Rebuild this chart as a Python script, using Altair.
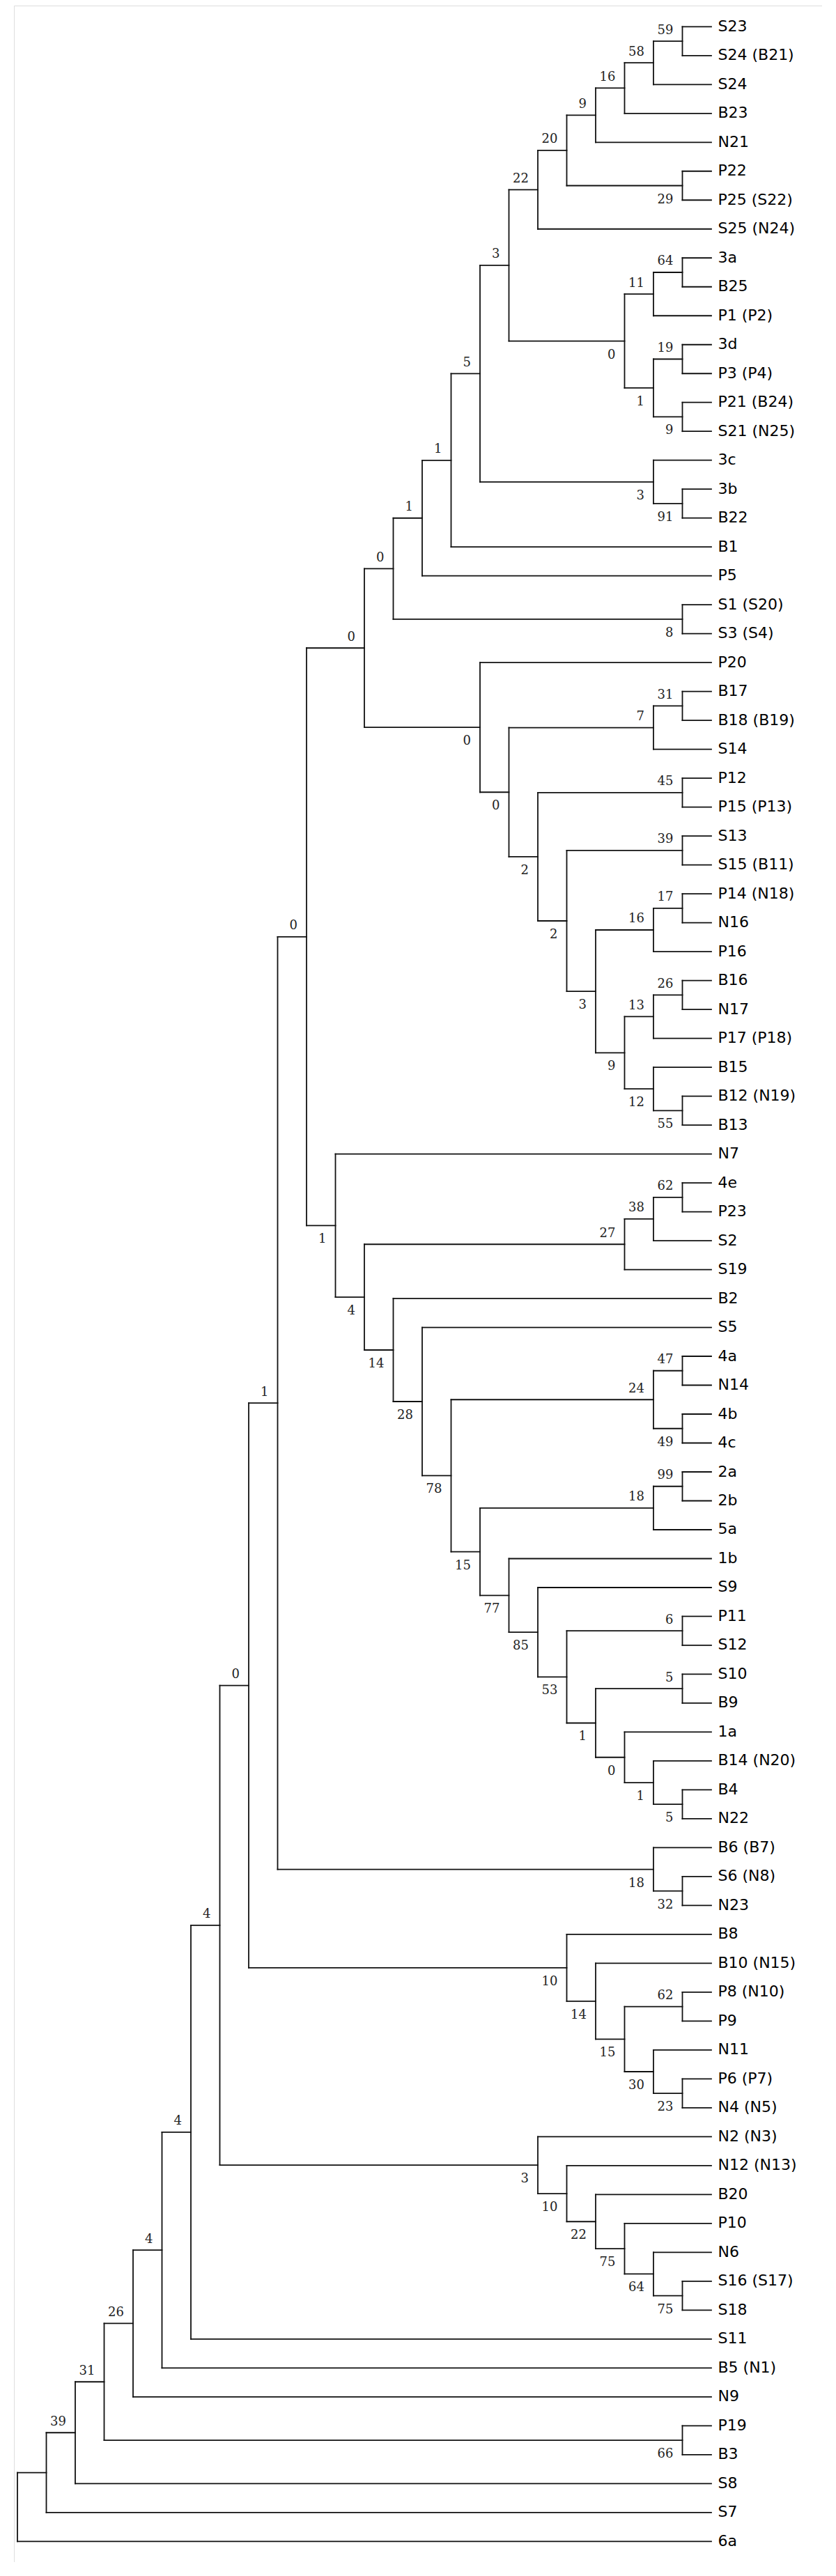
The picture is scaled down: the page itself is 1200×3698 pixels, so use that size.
import altair as alt
import pandas as pd

# ---------------- data ----------------
leaf_names = [
    "S23", "S24 (B21)", "S24", "B23", "N21", "P22", "P25 (S22)", "S25 (N24)",
    "3a", "B25", "P1 (P2)", "3d", "P3 (P4)", "P21 (B24)", "S21 (N25)",
    "3c", "3b", "B22", "B1", "P5", "S1 (S20)", "S3 (S4)",
    "P20", "B17", "B18 (B19)", "S14", "P12", "P15 (P13)", "S13", "S15 (B11)",
    "P14 (N18)", "N16", "P16", "B16", "N17", "P17 (P18)", "B15", "B12 (N19)", "B13",
    "N7", "4e", "P23", "S2", "S19", "B2", "S5", "4a", "N14", "4b", "4c",
    "2a", "2b", "5a", "1b", "S9", "P11", "S12", "S10", "B9", "1a",
    "B14 (N20)", "B4", "N22", "B6 (B7)", "S6 (N8)", "N23",
    "B8", "B10 (N15)", "P8 (N10)", "P9", "N11", "P6 (P7)", "N4 (N5)",
    "N2 (N3)", "N12 (N13)", "B20", "P10", "N6", "S16 (S17)", "S18",
    "S11", "B5 (N1)", "N9", "P19", "B3", "S8", "S7", "6a",
]

# internal nodes: id, upper child, lower child, bootstrap support
node_ids = [
    "a59", "a58", "a16", "a9", "a29", "a20", "a22", "a64", "a11", "a19", "a9b", "a1",
    "a0", "a3", "a91", "a3b", "a5", "b1", "b1b", "c8", "c0",
    "d31", "d7", "d45", "d39", "d17", "d16", "d26", "d13", "d55", "d12", "d9", "d3",
    "d2a", "d2b", "d0a", "d0b", "e0",
    "f62", "f38", "f27", "f47", "f49", "f24", "f99", "f18", "f6", "f5", "f5b", "f1a",
    "f0", "f1b", "f53", "f85", "f77", "f15", "f78", "f28", "f14", "f4", "f1", "g0",
    "g32", "g18", "h15", "i23", "i30", "i62", "i15", "i14", "i10", "h16",
    "j75b", "j64", "j75", "j22", "j10", "j3", "h17", "h18", "h19", "h20", "k66",
    "h21", "h22", "h23", "root",
]
node_upper = [
    "S23", "a59", "a58", "a16", "P22", "a9", "a20", "3a", "a64", "3d", "P21 (B24)", "a19",
    "a11", "a22", "3b", "3c", "a3", "a5", "b1", "S1 (S20)", "b1b",
    "B17", "d31", "P12", "S13", "P14 (N18)", "d17", "B16", "d26", "B12 (N19)", "B15", "d13", "d16",
    "d39", "d45", "d7", "P20", "c0",
    "4e", "f62", "f38", "4a", "4b", "f47", "2a", "f99", "P11", "S10", "B4", "B14 (N20)",
    "1a", "f5", "f6", "S9", "1b", "f18", "f24", "S5", "B2", "f27", "N7", "e0",
    "S6 (N8)", "B6 (B7)", "g0", "P6 (P7)", "N11", "P8 (N10)", "i62", "B10 (N15)", "B8", "h15",
    "S16 (S17)", "N6", "P10", "B20", "N12 (N13)", "N2 (N3)", "h16", "h17", "h18", "h19", "P19",
    "h20", "h21", "h22", "h23",
]
node_lower = [
    "S24 (B21)", "S24", "B23", "N21", "P25 (S22)", "a29", "S25 (N24)", "B25", "P1 (P2)", "P3 (P4)", "S21 (N25)", "a9b",
    "a1", "a0", "B22", "a91", "a3b", "B1", "P5", "S3 (S4)", "c8",
    "B18 (B19)", "S14", "P15 (P13)", "S15 (B11)", "N16", "P16", "N17", "P17 (P18)", "B13", "d55", "d12", "d9",
    "d3", "d2a", "d2b", "d0a", "d0b",
    "P23", "S2", "S19", "N14", "4c", "f49", "2b", "5a", "S12", "B9", "N22", "f5b",
    "f1a", "f0", "f1b", "f53", "f85", "f77", "f15", "f78", "f28", "f14", "f4", "f1",
    "N23", "g32", "g18", "N4 (N5)", "i23", "P9", "i30", "i15", "i14", "i10",
    "S18", "j75b", "j64", "j75", "j22", "j10", "j3", "S11", "B5 (N1)", "N9", "B3",
    "k66", "S8", "S7", "6a",
]
node_support = [
    59, 58, 16, 9, 29, 20, 22, 64, 11, 19, 9, 1,
    0, 3, 91, 3, 5, 1, 1, 8, 0,
    31, 7, 45, 39, 17, 16, 26, 13, 55, 12, 9, 3,
    2, 2, 0, 0, 0,
    62, 38, 27, 47, 49, 24, 99, 18, 6, 5, 5, 1,
    0, 1, 53, 85, 77, 15, 78, 28, 14, 4, 1, 0,
    32, 18, 1, 23, 30, 62, 15, 14, 10, 0,
    75, 64, 75, 22, 10, 3, 4, 4, 4, 26, 66,
    31, 39, None, None,
]

# ---------------- layout of the cladogram ----------------
children = {n: (u, l) for n, u, l in zip(node_ids, node_upper, node_lower)}
leaf_index = {name: i for i, name in enumerate(leaf_names)}

height, ypos = {}, {}


def place(n):
    if n in leaf_index:
        height[n], ypos[n] = 0, float(leaf_index[n])
    else:
        u, l = children[n]
        place(u)
        place(l)
        height[n] = 1 + max(height[u], height[l])
        ypos[n] = (ypos[u] + ypos[l]) / 2.0
    return n


place("root")

seg_rows = []
for n, (u, l) in children.items():
    seg_rows.append(dict(x=height[n], x2=height[n], y=ypos[u], y2=ypos[l]))
    for c in (u, l):
        seg_rows.append(dict(x=height[n], x2=height[c], y=ypos[c], y2=ypos[c]))
segments = pd.DataFrame(seg_rows)

side = {}
for n, (u, l) in children.items():
    side[u], side[l] = "above", "below"

sup_rows = []
for n, s in zip(node_ids, node_support):
    if s is not None:
        sup_rows.append(dict(x=height[n], y=ypos[n], label=str(s), side=side.get(n, "above")))
support = pd.DataFrame(sup_rows)
sup_above = support[support.side == "above"]
sup_below = support[support.side == "below"]

leaves = pd.DataFrame(dict(x=[0] * len(leaf_names), y=list(range(len(leaf_names))), label=leaf_names))

# ---------------- scales (page pixel geometry) ----------------
PAD_L = 12           # left padding inside the svg
LEFT = 8 + PAD_L     # page x of the plot's left edge
W, H = 1160, 3670
step = 41.5          # px per tree level
row = 41.494         # px per leaf
leaf_x_px, first_y_px = 1021.0, 38.3
x_lo = (leaf_x_px - (LEFT + W)) / step
x_hi = (leaf_x_px - LEFT) / step
y_lo = (8 - first_y_px) / row
y_hi = (8 + H - first_y_px) / row

xs = alt.Scale(domain=[x_lo, x_hi], reverse=True, nice=False, zero=False)
ys = alt.Scale(domain=[y_lo, y_hi], reverse=True, nice=False, zero=False)

lines = alt.Chart(segments).mark_rule(color="#111111", strokeWidth=1.8, strokeCap="square").encode(
    x=alt.X("x:Q", scale=xs, axis=None),
    x2="x2:Q",
    y=alt.Y("y:Q", scale=ys, axis=None),
    y2="y2:Q",
)

leaf_text = alt.Chart(leaves).mark_text(
    align="left", baseline="middle", dx=9.5, dy=-0.5,
    font="DejaVu Sans", fontSize=22, color="#000000",
).encode(
    x=alt.X("x:Q", scale=xs, axis=None),
    y=alt.Y("y:Q", scale=ys, axis=None),
    text="label:N",
)

sup_font = dict(align="right", baseline="middle", font="DejaVu Serif", fontSize=18, color="#222222")
above_text = alt.Chart(sup_above).mark_text(dx=-13, dy=-15.5, **sup_font).encode(
    x=alt.X("x:Q", scale=xs, axis=None),
    y=alt.Y("y:Q", scale=ys, axis=None),
    text="label:N",
)
below_text = alt.Chart(sup_below).mark_text(dx=-13, dy=20, **sup_font).encode(
    x=alt.X("x:Q", scale=xs, axis=None),
    y=alt.Y("y:Q", scale=ys, axis=None),
    text="label:N",
)

chart = (
    alt.layer(lines, leaf_text, above_text, below_text)
    .properties(
        width=W, height=H,
        padding={"left": PAD_L, "top": 0, "right": 0, "bottom": 0},
        autosize=alt.AutoSizeParams(type="none"),
    )
    .configure_view(strokeWidth=0, stroke="white", fill="white")
    .configure(background="white")
)

chart.save("out.html", embed_options={"renderer": "svg", "actions": False})
